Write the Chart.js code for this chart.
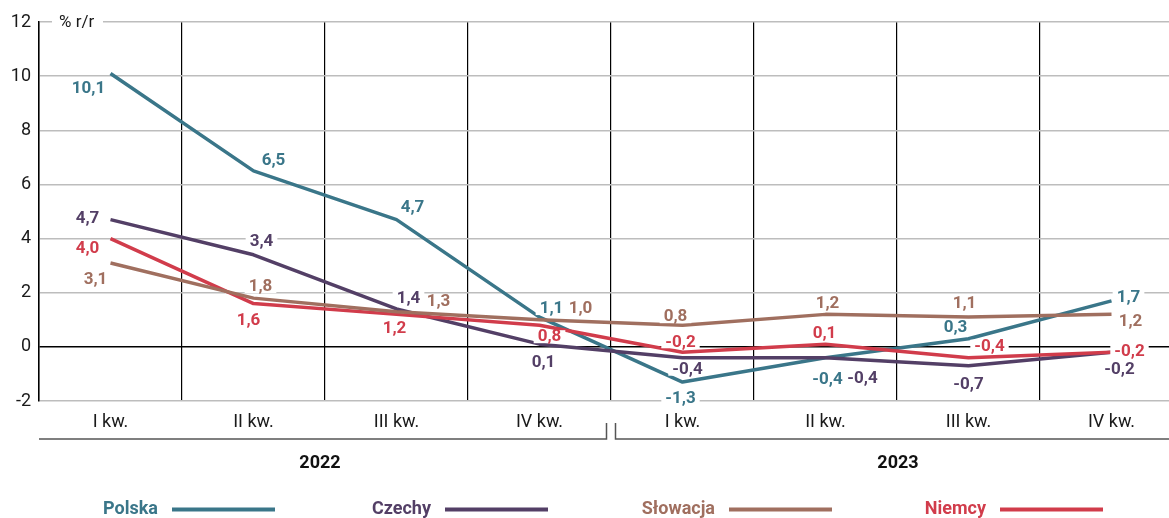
<!DOCTYPE html>
<html>
<head>
<meta charset="utf-8">
<script src="https://cdn.jsdelivr.net/npm/chart.js@4.4.1/dist/chart.umd.min.js"></script>
<style>
html,body{margin:0;padding:0;overflow:hidden;background:#fff;}
#wrap{position:relative;width:1183px;height:518px;}
</style>
</head>
<body>
<div id="wrap"><canvas id="c"></canvas></div>
<script>
// ---- data ----
const quarters = ["I kw.", "II kw.", "III kw.", "IV kw.", "I kw.", "II kw.", "III kw.", "IV kw."];
const years = ["2022", "2023"];
const seriesNames = ["Polska", "Czechy", "Słowacja", "Niemcy"];
const polska   = [10.1, 6.5, 4.7, 1.1, -1.3, -0.4, 0.3, 1.7];
const czechy   = [4.7, 3.4, 1.4, 0.1, -0.4, -0.4, -0.7, -0.2];
const slowacja = [3.1, 1.8, 1.3, 1.0, 0.8, 1.2, 1.1, 1.2];
const niemcy   = [4.0, 1.6, 1.2, 0.8, -0.2, 0.1, -0.4, -0.2];
const yTicks = [-2, 0, 2, 4, 6, 8, 10, 12];
const unitLabel = "% r/r";

// ---- styles ----
const colors = ["#3a7689", "#533f66", "#a06f5f", "#d13c4b"];
// label offsets (dx, dy) from each point, in pixels
const labelOffsets = [
  [[-22,14],[20,-11],[16,-13],[12,-9],[-2,16],[2,21],[-13,-12],[17,-4]],
  [[-23,-2],[8,-14],[12,-11],[4,18],[5,11],[37,20],[0,18],[8,16]],
  [[-15,16],[7,-12],[42,-11],[41,-12],[-7,-9],[2,-12],[-4,-14],[19,6]],
  [[-23,9],[-5,16],[-2,13],[10,11],[-2,-11],[-1,-11],[21,-12],[18,-2]]
];
const FONT = "Roboto, 'Liberation Sans', sans-serif";
const fmt = v => v.toFixed(1).replace('.', ',');

const allSeries = [polska, czechy, slowacja, niemcy];
// draw order: brown bottom, then red, purple, teal on top
const order = [2, 3, 1, 0];

const datasets = order.map(i => ({
  label: seriesNames[i],
  data: allSeries[i],
  borderColor: colors[i],
  backgroundColor: colors[i],
  borderWidth: 3.5,
  pointRadius: 0,
  tension: 0,
  borderCapStyle: 'butt',
  borderJoinStyle: 'round'
}));

const decor = {
  id: 'decor',
  afterDatasetsDraw(chart) {
    const ctx = chart.ctx;
    const xs = chart.scales.x, ys = chart.scales.y;
    const ca = chart.chartArea;
    ctx.save();
    // unit label on top
    ctx.fillStyle = '#fff';
    ctx.fillRect(52, ca.top - 7, 51, 14);
    ctx.font = "17px " + FONT;
    ctx.fillStyle = '#1a1a1a';
    ctx.textAlign = 'left';
    ctx.textBaseline = 'middle';
    ctx.fillText(unitLabel, 59, ca.top + 1);

    // data labels
    ctx.font = "bold 17px " + FONT;
    const items = [];
    for (let i = 0; i < allSeries.length; i++) {
      allSeries[i].forEach((v, j) => {
        const px = xs.getPixelForValue(j);
        const py = ys.getPixelForValue(v);
        const t = fmt(v);
        const w = ctx.measureText(t).width;
        items.push({x: px + labelOffsets[i][j][0], y: py + labelOffsets[i][j][1], t, w, c: colors[i]});
      });
    }
    ctx.fillStyle = '#fff';
    items.forEach(it => ctx.fillRect(it.x - it.w/2 - 4, it.y - 6, it.w + 8, 13));
    ctx.textAlign = 'center';
    ctx.textBaseline = 'middle';
    items.forEach(it => { ctx.fillStyle = it.c; ctx.fillText(it.t, it.x, it.y + 1); });

    // year brackets
    const bx = (xs.getPixelForValue(3) + xs.getPixelForValue(4)) / 2;
    const by = 439;
    ctx.strokeStyle = '#555';
    ctx.lineWidth = 1.5;
    ctx.beginPath();
    ctx.moveTo(ca.left, by); ctx.lineTo(bx - 4.5, by); ctx.lineTo(bx - 4.5, by - 16);
    ctx.moveTo(bx + 4.5, by - 16); ctx.lineTo(bx + 4.5, by); ctx.lineTo(chart.width, by);
    ctx.stroke();
    ctx.font = "bold 18px " + FONT;
    ctx.fillStyle = '#111';
    ctx.textAlign = 'center';
    ctx.fillText(years[0], (ca.left + bx) / 2 - 5, 463);
    ctx.fillText(years[1], (bx + 1169) / 2 + 8, 463);

    // legend
    ctx.font = "bold 18px " + FONT;
    ctx.textAlign = 'right';
    ctx.textBaseline = 'alphabetic';
    const starts = [172, 445, 729, 1000];
    seriesNames.forEach((n, i) => {
      ctx.fillStyle = colors[i];
      ctx.fillText(n, starts[i] - 14, 514);
      ctx.strokeStyle = colors[i];
      ctx.lineWidth = 4;
      ctx.beginPath();
      ctx.moveTo(starts[i], 509.5); ctx.lineTo(starts[i] + 103, 509.5);
      ctx.stroke();
    });
    ctx.restore();
  }
};

new Chart(document.getElementById('c'), {
  type: 'line',
  data: { labels: quarters, datasets },
  plugins: [decor],
  options: {
    responsive: true,
    maintainAspectRatio: false,
    animation: false,
    layout: { padding: { top: 22, left: 0, right: 0, bottom: 0 } },
    plugins: { legend: { display: false }, tooltip: { enabled: false } },
    scales: {
      x: {
        type: 'category',
        offset: true,
        afterFit: s => { s.height = 117; },
        grid: { offset: true, color: '#000', lineWidth: 1.2, drawTicks: false },
        border: { display: false },
        ticks: { font: { family: FONT, size: 18 }, color: '#1a1a1a', padding: 11, maxRotation: 0, autoSkip: false }
      },
      y: {
        min: -2, max: 12,
        afterFit: s => { s.width = 39; },
        afterBuildTicks: s => { s.ticks = yTicks.map(v => ({ value: v })); },
        grid: {
          color: c => (c.tick && c.tick.value === 0) ? '#000' : '#bdbdbd',
          lineWidth: 1.5,
          drawTicks: false
        },
        border: { display: true, color: '#000', width: 1.5 },
        ticks: { font: { family: FONT, size: 18 }, color: '#1a1a1a', padding: 8 }
      }
    }
  }
});
</script>
</body>
</html>
